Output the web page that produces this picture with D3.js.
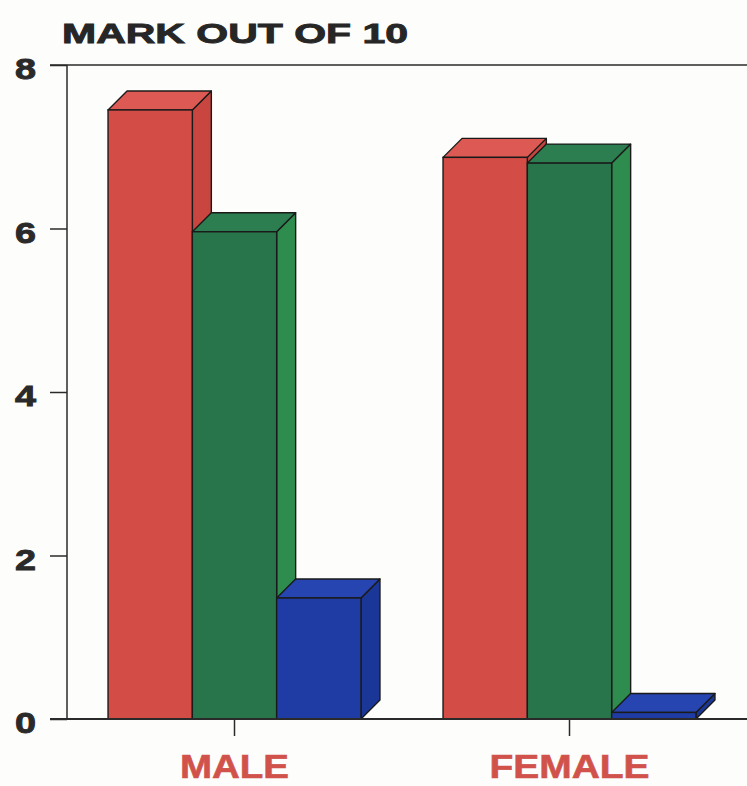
<!DOCTYPE html>
<html>
<head>
<meta charset="utf-8">
<script src="https://cdn.jsdelivr.net/npm/d3@7"></script>
<style>
  html, body { margin: 0; padding: 0; background: #fdfdfb; }
  svg { display: block; }
  text { font-family: "Liberation Sans", Arial, sans-serif; font-weight: bold; }
</style>
</head>
<body>
<svg id="chart" width="747" height="786"></svg>
<script>
// ---- data ----
const categories = ["MALE", "FEMALE"];
const seriesNames = ["Red", "Green", "Blue"];
const maleValues = [7.45, 5.96, 1.48];
const femaleValues = [6.87, 6.8, 0.08];
const yTicks = [0, 2, 4, 6, 8];
const title = "MARK OUT OF 10";

const values = [maleValues, femaleValues];
const colors = {
  Red:   { front: "#d44c46", top: "#dc5a53", side: "#c8463f" },
  Green: { front: "#28744b", top: "#2c7e50", side: "#2e8c4f" },
  Blue:  { front: "#1e3ca4", top: "#2645b1", side: "#1a3696" }
};

const W = 747, H = 786;
const svg = d3.select("#chart");
svg.append("rect").attr("width", W).attr("height", H).attr("fill", "#fdfdfb");

const x0 = d3.scaleBand().domain(categories).range([67, 737]).padding(0);
const groupW = x0.bandwidth() * 0.755;
const x1 = d3.scaleBand().domain(seriesNames).range([0, groupW]).padding(0);
const y = d3.scaleLinear().domain([0, 8]).range([719, 65]);
const dx = 19, dy = -19;

// title
svg.append("text")
  .attr("x", 62).attr("y", 43)
  .attr("font-size", 28).attr("fill", "#262626")
  .attr("stroke", "#262626").attr("stroke-width", 0.9)
  .attr("textLength", 346).attr("lengthAdjust", "spacingAndGlyphs")
  .text(title);

// axis lines
const axisColor = "#2a2a2a";
svg.append("line").attr("x1", 67).attr("x2", 67).attr("y1", y(8)).attr("y2", y(0))
  .attr("stroke", axisColor).attr("stroke-width", 1.5);
svg.append("line").attr("x1", 50).attr("x2", W).attr("y1", y(8)).attr("y2", y(8))
  .attr("stroke", axisColor).attr("stroke-width", 1.5);

// y axis via d3.axisLeft
const yAxis = d3.axisLeft(y).tickValues(yTicks).tickSize(17).tickPadding(14).tickFormat(d3.format("d"));
const gy = svg.append("g").attr("transform", "translate(67,0)").call(yAxis);
gy.select(".domain").remove();
gy.selectAll(".tick line").attr("stroke", axisColor).attr("stroke-width", 1.5);
gy.selectAll(".tick text")
  .attr("font-size", 30).attr("fill", "#2a2a2a")
  .attr("stroke", "#2a2a2a").attr("stroke-width", 0.9)
  .attr("font-family", "'Liberation Sans', Arial, sans-serif").attr("font-weight", "bold")
  .attr("textLength", 21).attr("lengthAdjust", "spacingAndGlyphs")
  .attr("dy", "0.45em");

// bars
const groups = svg.append("g").selectAll("g")
  .data(categories).join("g")
  .attr("transform", d => `translate(${x0(d) + (x0.bandwidth() - groupW) / 2},0)`);

groups.each(function(cat, gi) {
  const g = d3.select(this);
  seriesNames.forEach((s, si) => {
    const v = values[gi][si];
    const xl = x1(s), xr = xl + x1.bandwidth();
    const yt = y(v), yb = y(0);
    const c = colors[s];
    const bar = g.append("g");
    bar.append("path")
      .attr("d", `M${xr},${yb} L${xr + dx},${yb + dy} L${xr + dx},${yt + dy} L${xr},${yt} Z`)
      .attr("fill", c.side).attr("stroke", "#1a1a1a").attr("stroke-width", 1.4).attr("stroke-linejoin", "round");
    bar.append("path")
      .attr("d", `M${xl},${yt} L${xl + dx},${yt + dy} L${xr + dx},${yt + dy} L${xr},${yt} Z`)
      .attr("fill", c.top).attr("stroke", "#1a1a1a").attr("stroke-width", 1.4).attr("stroke-linejoin", "round");
    bar.append("rect")
      .attr("x", xl).attr("y", yt).attr("width", xr - xl).attr("height", yb - yt)
      .attr("fill", c.front).attr("stroke", "#1a1a1a").attr("stroke-width", 1.4);
  });
});

// baseline
svg.append("line").attr("x1", 50).attr("x2", W).attr("y1", y(0)).attr("y2", y(0))
  .attr("stroke", axisColor).attr("stroke-width", 1.8);

// category axis
const xAxis = d3.axisBottom(x0).tickSize(17);
const gx = svg.append("g").attr("transform", `translate(0,${y(0)})`).call(xAxis);
gx.select(".domain").remove();
gx.selectAll(".tick line").attr("stroke", axisColor).attr("stroke-width", 1.5);
gx.selectAll(".tick text")
  .attr("font-size", 33).attr("fill", "#d0524b")
  .attr("stroke", "#d0524b").attr("stroke-width", 0.6)
  .attr("font-family", "'Liberation Sans', Arial, sans-serif").attr("font-weight", "bold")
  .attr("textLength", d => d === "MALE" ? 109 : 160).attr("lengthAdjust", "spacingAndGlyphs")
  .attr("y", 59).attr("dy", null);
</script>
</body>
</html>
